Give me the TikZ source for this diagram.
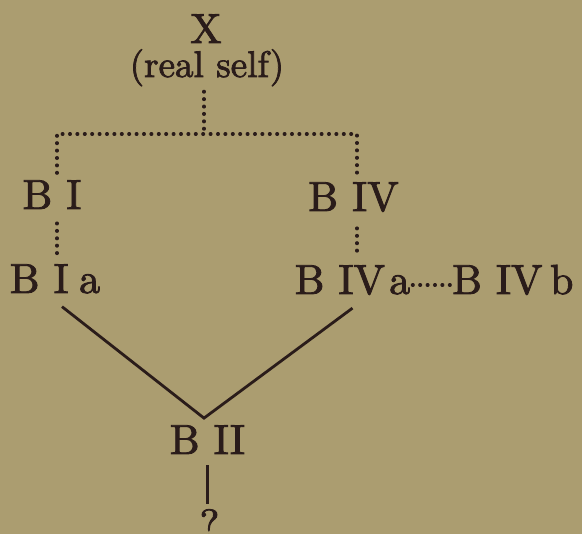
\documentclass[tikz,border=0pt]{standalone}
\usepackage{fontspec}
\usetikzlibrary{calc}
\newfontfamily\heavy{lmroman10-regular.otf}[FakeBold=2]
\definecolor{paper}{RGB}{171,157,112}
\definecolor{ink}{RGB}{42,28,26}
\tikzset{
  lbl/.style={inner sep=0pt,text=ink,font=\heavy\fontsize{42}{42}\selectfont},
  sublbl/.style={lbl,font=\heavy\fontsize{37}{37}\selectfont},
  dotline/.style={draw=ink,line width=3.4pt,line cap=round,
                  dash pattern=on 0.6pt off 6.8pt},
  link/.style={draw=ink,line width=2.8pt},
}

\begin{document}
\begin{tikzpicture}[x=1pt,y=-1pt]
  \fill[paper] (0,0) rectangle (582,534);
  \useasboundingbox (0,0) rectangle (582,534);
  % the top
  \node[lbl,anchor=base]    (x)    at (206,43)    {X};
  \node[sublbl,anchor=base] (real) at (207,77)    {(real self)};
  % the two branches
  \node[lbl,anchor=base]    (b1)   at (52,209)    {B I};
  \node[lbl,anchor=base]    (b1a)  at (55,293)    {B I\hspace{.25em}a};
  \node[lbl,anchor=base]    (b4)   at (353.5,211) {B IV};
  \node[lbl,anchor=base]    (b4a)  at (352.5,294) {B IV\hspace{.1em}a};
  \node[lbl,anchor=base west] (b4b) at (452,294)  {B IV\hspace{.18em}b};
  % the bottom
  \node[lbl,anchor=base]    (b2)   at (207.5,454) {B II};
  \node[lbl,anchor=north]   (q)    at (209.5,509) {?};
  % the fork
  \coordinate (fork) at (204,134);
  \coordinate (lft)  at (57,134);
  \coordinate (rgt)  at (357,134);
  \coordinate (apex) at ([yshift=7pt]fork |- b2.north);
  \draw[dotline] ([yshift=-5pt]fork |- real.south) -- (fork);
  \draw[dotline] ([yshift=7pt]lft |- b1.north) -- (lft) -- (rgt)
                 -- ([yshift=4pt]rgt |- b4.north);
  \draw[dotline] ([yshift=-14pt]lft |- b1.south) -- ([yshift=7pt]lft |- b1a.north);
  \draw[dotline] ([yshift=-16pt]rgt |- b4.south) -- ([yshift=8pt]rgt |- b4a.north);
  \draw[dotline] ([shift={(2pt,9pt)}]b4a.base east) -- ([shift={(-1pt,9pt)}]b4b.base west);
  % the solid lines
  \draw[link] ([shift={(7pt,-13pt)}]b1a.south) -- (apex)
              -- ([yshift=-13pt]b4a.south);
  \draw[link] ([yshift=-11pt]b2.south) -- ([yshift=5pt]b2.south |- q.north);
\end{tikzpicture}
\end{document}
